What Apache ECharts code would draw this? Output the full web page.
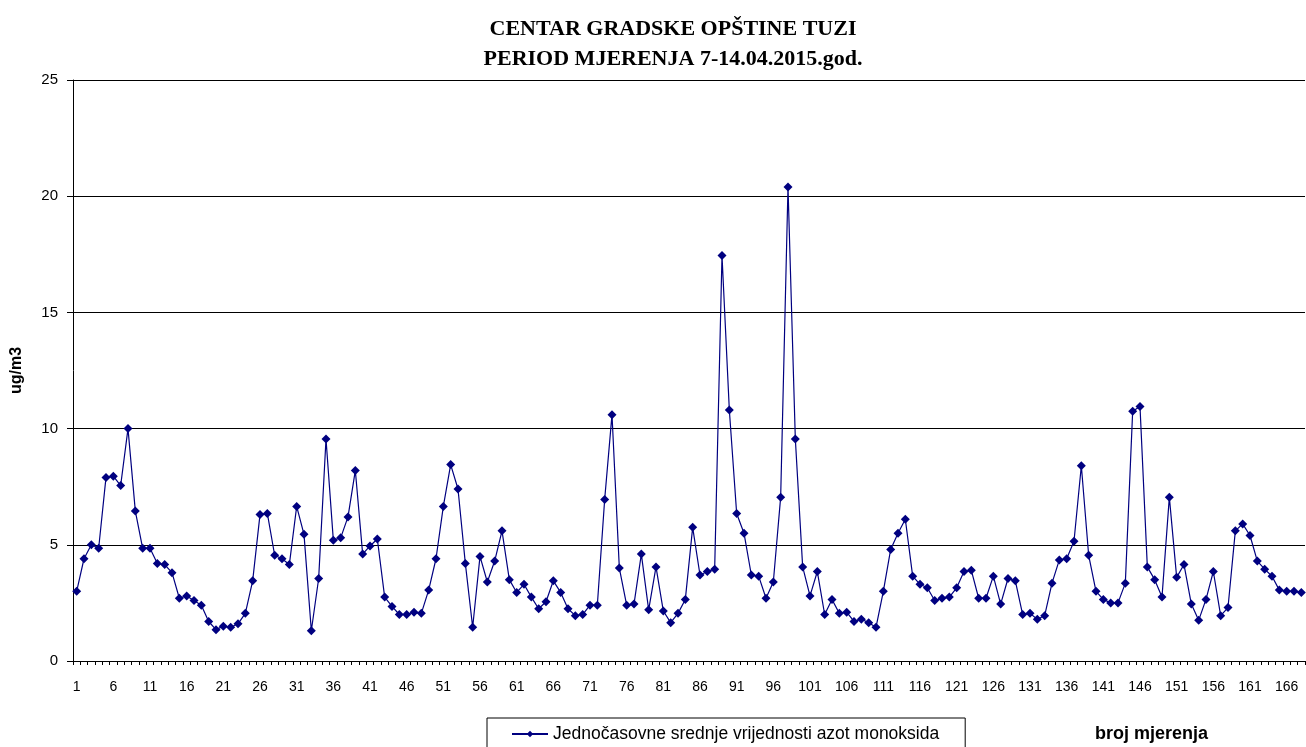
<!DOCTYPE html>
<html>
<head>
<meta charset="utf-8">
<script src="https://cdn.jsdelivr.net/npm/echarts@6/dist/echarts.min.js"></script>
<style>
  html, body { margin: 0; padding: 0; background: #fff; }
  #chart { width: 1306px; height: 747px; }
</style>
</head>
<body>
<div id="chart"></div>
<script>
// broj mjerenja 1..168
var pointCount = 168;
var categories = [];
for (var i = 1; i <= pointCount; i++) {
  categories.push(String(i));
}

// Jednočasovne srednje vrijednosti azot monoksida (ug/m3)
var noValues = [
  3.0, 4.4, 5.0, 4.85, 7.9, 7.95, 7.55, 10.0, 6.45, 4.85,
  4.85, 4.2, 4.15, 3.8, 2.7, 2.8, 2.6, 2.4, 1.7, 1.35,
  1.5, 1.45, 1.6, 2.05, 3.45, 6.3, 6.35, 4.55, 4.4, 4.15,
  6.65, 5.45, 1.3, 3.55, 9.55, 5.2, 5.3, 6.2, 8.2, 4.6,
  4.95, 5.25, 2.75, 2.35, 2.0, 2.0, 2.1, 2.05, 3.05, 4.4,
  6.65, 8.45, 7.4, 4.2, 1.45, 4.5, 3.4, 4.3, 5.6, 3.5,
  2.95, 3.3, 2.75, 2.25, 2.55, 3.45, 2.95, 2.25, 1.95, 2.0,
  2.4, 2.4, 6.95, 10.6, 4.0, 2.4, 2.45, 4.6, 2.2, 4.05,
  2.15, 1.65, 2.05, 2.65, 5.75, 3.7, 3.85, 3.95, 17.45, 10.8,
  6.35, 5.5, 3.7, 3.65, 2.7, 3.4, 7.05, 20.4, 9.55, 4.05,
  2.8, 3.85, 2.0, 2.65, 2.05, 2.1, 1.7, 1.8, 1.65, 1.45,
  3.0, 4.8, 5.5, 6.1, 3.65, 3.3, 3.15, 2.6, 2.7, 2.75,
  3.15, 3.85, 3.9, 2.7, 2.7, 3.65, 2.45, 3.55, 3.45, 2.0,
  2.05, 1.8, 1.95, 3.35, 4.35, 4.4, 5.15, 8.4, 4.55, 3.0,
  2.65, 2.5, 2.5, 3.35, 10.75, 10.95, 4.05, 3.5, 2.75, 7.05,
  3.6, 4.15, 2.45, 1.75, 2.65, 3.85, 1.95, 2.3, 5.6, 5.9,
  5.4, 4.3, 3.95, 3.65, 3.05, 3.0, 3.0, 2.95
];

var titleLines = ["CENTAR GRADSKE OPŠTINE TUZI", "PERIOD MJERENJA 7-14.04.2015.god."];
var seriesName = "Jednočasovne srednje vrijednosti azot monoksida";
var yName = "ug/m3";
var xName = "broj mjerenja";

var lineColor = "#000080";
var myChart = echarts.init(document.getElementById("chart"), null, { renderer: "canvas" });

var option = {
  backgroundColor: "#fff",
  animation: false,
  title: {
    text: titleLines.join("\n"),
    left: 668,
    textAlign: "center",
    top: 9,
    textStyle: {
      fontFamily: "Liberation Serif",
      fontSize: 22,
      fontWeight: "bold",
      color: "#000",
      lineHeight: 30
    }
  },
  legend: {
    data: [seriesName],
    left: 487,
    top: 718,
    orient: "horizontal",
    itemWidth: 36,
    itemHeight: 8,
    itemGap: 5,
    padding: [7, 26, 12, 24],
    borderColor: "#000",
    borderWidth: 1,
    textStyle: {
      fontFamily: "Liberation Sans",
      fontSize: 17.5,
      color: "#000"
    }
  },
  grid: {
    left: 73,
    right: 1,
    top: 80,
    bottom: 86,
    containLabel: false
  },
  xAxis: {
    type: "category",
    data: categories,
    boundaryGap: true,
    axisLine: { lineStyle: { color: "#000", width: 1 } },
    axisTick: {
      show: true,
      interval: 0,
      length: 4,
      lineStyle: { color: "#000" }
    },
    axisLabel: {
      interval: 4,
      margin: 19,
      fontFamily: "Liberation Sans",
      fontSize: 14,
      color: "#000"
    },
    splitLine: { show: false }
  },
  yAxis: {
    type: "value",
    min: 0,
    max: 25,
    interval: 5,
    name: yName,
    nameLocation: "middle",
    nameRotate: 90,
    nameGap: 48,
    nameTextStyle: {
      fontFamily: "Liberation Sans",
      fontSize: 16,
      fontWeight: "bold",
      color: "#000"
    },
    axisLine: { show: true, lineStyle: { color: "#000", width: 1 } },
    axisTick: { show: true, length: 6, lineStyle: { color: "#000" } },
    axisLabel: {
      margin: 15,
      fontFamily: "Liberation Sans",
      fontSize: 15,
      color: "#000"
    },
    splitLine: { show: true, lineStyle: { color: "#000", width: 1 } }
  },
  graphic: [
    {
      type: "text",
      left: 1095,
      top: 725,
      style: {
        text: xName,
        fontFamily: "Liberation Sans",
        fontSize: 18,
        fontWeight: "bold",
        fill: "#000"
      }
    }
  ],
  series: [
    {
      name: seriesName,
      type: "line",
      data: noValues,
      symbol: "diamond",
      symbolSize: 9,
      showSymbol: true,
      showAllSymbol: true,
      itemStyle: { color: lineColor },
      lineStyle: { color: lineColor, width: 1.2 }
    }
  ]
};

myChart.setOption(option);
</script>
</body>
</html>
